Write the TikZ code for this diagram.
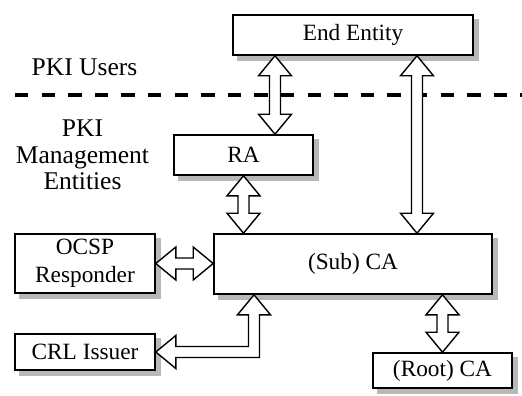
\documentclass[tikz,border=0pt]{standalone}
\usepackage{fontspec}
\setmainfont{Liberation Serif}
\usetikzlibrary{calc,backgrounds}

\tikzset{
  box/.style={draw, line width=1.6pt, fill=white, inner sep=0pt, align=center,
    font=\fontsize{23.3}{28.5}\selectfont},
  boxshadow/.style={fill=black!28},
  lbl/.style={inner sep=0pt, align=center, font=\fontsize{25.5}{26.5}\selectfont},
  bigarrow/.style={draw, fill=white, line width=1.4pt, line join=miter},
  divider/.style={line width=4pt, dash pattern=on 13.3pt off 13.3pt}
}

% hollow arrow with a head at both ends
\newcommand{\fatarrow}[2]{%
  \coordinate (fa) at ($(#1)!20pt!(#2)$);
  \coordinate (fb) at ($(#2)!20pt!(#1)$);
  \draw[bigarrow] (#1)
    -- ($(fa)!16.5pt!90:(#2)$) -- ($(fa)!5.5pt!90:(#2)$)
    -- ($(fb)!5.5pt!-90:(#1)$) -- ($(fb)!16.5pt!-90:(#1)$)
    -- (#2)
    -- ($(fb)!16.5pt!90:(#1)$) -- ($(fb)!5.5pt!90:(#1)$)
    -- ($(fa)!5.5pt!-90:(#2)$) -- ($(fa)!16.5pt!-90:(#2)$)
    -- cycle;}

\begin{document}
\begin{tikzpicture}[x=1pt,y=-1pt]
  \useasboundingbox (0,0) rectangle (522,396);

  \node[lbl, anchor=base] (users) at (84.5,75) {PKI Users};
  \node[lbl, anchor=north] (mgmt) at (82.5,120) {PKI\\Management\\Entities};
  \coordinate (dl) at (15,95);
  \coordinate (dr) at (522,95);
  \draw[divider] (dl) -- (dr);

  \node[box, minimum width=240pt, minimum height=40pt] (ee) at (353,35) {End Entity};
  \node[box, minimum width=139pt, minimum height=40pt] (ra) at (243.5,155) {RA};
  \node[box, minimum width=278pt, minimum height=60pt] (sub) at (353,264) {(Sub) CA};
  \node[box, minimum width=140pt, minimum height=59pt] (ocsp) at (85,263.5) {OCSP\\Responder};
  \node[box, minimum width=140pt, minimum height=36pt] (crl) at (85,352) {CRL Issuer};
  \node[box, minimum width=139pt, minimum height=35pt] (root) at (442.5,370.5) {(Root) CA};

  \begin{scope}[on background layer]
    \foreach \n in {ee,ra,sub,ocsp,crl,root}
      \fill[boxshadow] ([shift={(5pt,-5pt)}]\n.south west) rectangle ([shift={(5pt,-5pt)}]\n.north east);
  \end{scope}

  \coordinate (eera1) at ([xshift=-78pt]ee.south);
  \coordinate (eera2) at (ra.north -| eera1);
  \coordinate (eesub1) at ([xshift=64pt]ee.south);
  \coordinate (eesub2) at (sub.north -| eesub1);
  \coordinate (rasub) at (sub.north -| ra.south);
  \coordinate (ocspsub) at (sub.west |- ocsp.east);
  \coordinate (subroot) at (sub.south -| root.north);

  \fatarrow{eera1}{eera2}
  \fatarrow{eesub1}{eesub2}
  \fatarrow{ra.south}{rasub}
  \fatarrow{ocsp.east}{ocspsub}
  \fatarrow{subroot}{root.north}

  \coordinate (crl1) at ([xshift=-99pt]sub.south);
  \coordinate (crl2) at (crl.east);
  \coordinate (bend) at (crl1 |- crl2);
  \draw[bigarrow] (crl1)
    -- ($(crl1)+(16.5,20)$) -- ($(crl1)+(5.5,20)$)
    -- ($(bend)+(5.5,5.5)$)
    -- ($(crl2)+(20,5.5)$) -- ($(crl2)+(20,16.5)$)
    -- (crl2)
    -- ($(crl2)+(20,-16.5)$) -- ($(crl2)+(20,-5.5)$)
    -- ($(bend)+(-5.5,-5.5)$)
    -- ($(crl1)+(-5.5,20)$) -- ($(crl1)+(-16.5,20)$)
    -- cycle;
\end{tikzpicture}
\end{document}
